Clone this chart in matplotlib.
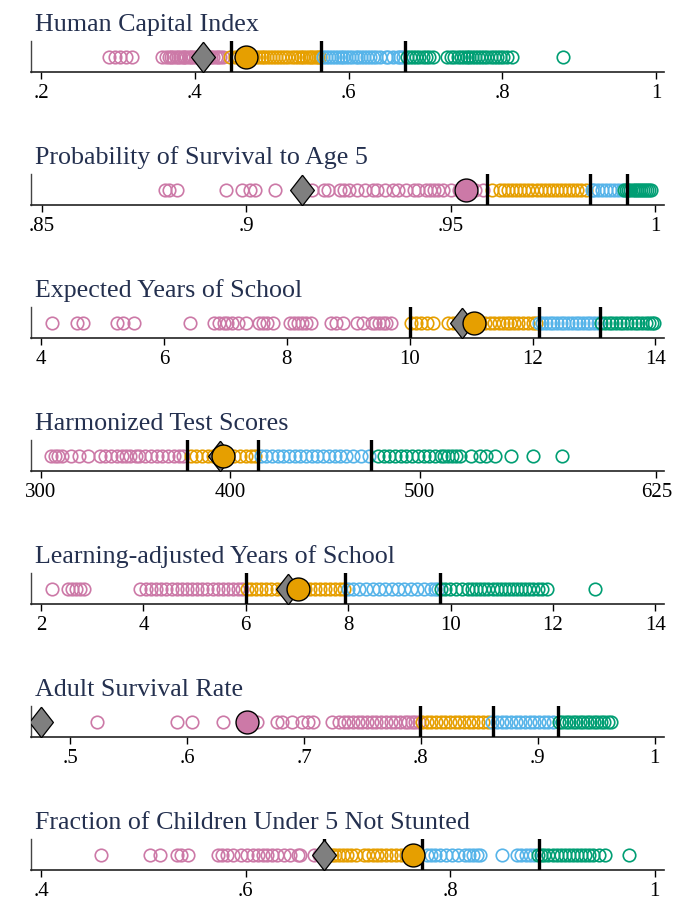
import matplotlib
matplotlib.use('Agg')
import matplotlib.pyplot as plt

# quartile colours (pink, orange, blue, green)
colors = ['#CC79A7', '#E69F00', '#56B4E9', '#009E73']
title_color = '#24304f'

# ---- Human Capital Index
hci_q1 = [0.289, 0.296, 0.303, 0.310, 0.318, 0.357, 0.362, 0.366, 0.369, 0.372, 0.375, 0.378,
          0.381, 0.384, 0.386, 0.389, 0.392, 0.395, 0.398, 0.401, 0.404, 0.407, 0.410, 0.413,
          0.416, 0.419, 0.421, 0.424, 0.427, 0.430, 0.433, 0.437]
hci_q2 = [0.446, 0.452, 0.456, 0.460, 0.471, 0.475, 0.479, 0.483, 0.487, 0.490, 0.494, 0.498,
          0.502, 0.505, 0.509, 0.513, 0.517, 0.521, 0.526, 0.530, 0.534, 0.538, 0.541, 0.545,
          0.548, 0.551, 0.554, 0.557, 0.560, 0.563]
hci_q3 = [0.566, 0.570, 0.574, 0.578, 0.582, 0.586, 0.590, 0.593, 0.597, 0.601, 0.605, 0.609,
          0.612, 0.616, 0.620, 0.624, 0.628, 0.632, 0.636, 0.641, 0.648, 0.651, 0.658, 0.664,
          0.667, 0.671]
hci_q4 = [0.676, 0.680, 0.684, 0.688, 0.692, 0.697, 0.701, 0.705, 0.710, 0.728, 0.733, 0.737,
          0.742, 0.746, 0.750, 0.754, 0.757, 0.761, 0.764, 0.768, 0.772, 0.776, 0.780, 0.785,
          0.789, 0.793, 0.797, 0.801, 0.806, 0.812, 0.879]
hci_cuts = [0.447, 0.564, 0.673]
hci_diamond = 0.410
hci_circle = 0.467
hci_circle_q = 1
hci_lim = (0.187, 1.010)
hci_ticks = [0.2, 0.4, 0.6, 0.8, 1.0]
hci_labels = ['.2', '.4', '.6', '.8', '1']

# ---- Probability of Survival to Age 5
psurv_q1 = [0.880, 0.881, 0.883, 0.895, 0.899, 0.901, 0.902, 0.907, 0.916, 0.919, 0.920, 0.923,
            0.924, 0.925, 0.927, 0.929, 0.931, 0.932, 0.934, 0.936, 0.937, 0.939, 0.941, 0.942,
            0.944, 0.945, 0.946, 0.947, 0.948, 0.950, 0.952, 0.956, 0.958]
psurv_q2 = [0.960, 0.962, 0.963, 0.964, 0.965, 0.966, 0.967, 0.968, 0.969, 0.970, 0.971, 0.972,
            0.973, 0.974, 0.975, 0.976, 0.977, 0.978, 0.979, 0.980, 0.981, 0.982, 0.983]
psurv_q3 = [0.9845, 0.985, 0.986, 0.987, 0.988, 0.989, 0.990, 0.991, 0.992]
psurv_q4 = [0.9925, 0.993, 0.9935, 0.994, 0.9945, 0.995, 0.9955, 0.996, 0.9965, 0.997, 0.9975,
            0.998, 0.9985, 0.999]
psurv_cuts = [0.959, 0.984, 0.9931]
psurv_diamond = 0.9135
psurv_circle = 0.9538
psurv_circle_q = 0
psurv_lim = (0.8473, 1.0022)
psurv_ticks = [0.85, 0.9, 0.95, 1.0]
psurv_labels = ['.85', '.9', '.95', '1']

# ---- Expected Years of School
eys_q1 = [4.17, 4.58, 4.69, 5.24, 5.33, 5.51, 6.43, 6.82, 6.90, 6.97, 7.03, 7.10, 7.20, 7.33,
          7.55, 7.62, 7.68, 7.78, 8.05, 8.12, 8.18, 8.24, 8.31, 8.40, 8.72, 8.80, 8.92, 9.14,
          9.24, 9.38, 9.44, 9.50, 9.56, 9.62, 9.70]
eys_q2 = [10.02, 10.10, 10.18, 10.28, 10.38, 10.62, 10.70, 10.78, 10.92, 11.00, 11.15, 11.22,
          11.30, 11.38, 11.46, 11.52, 11.58, 11.64, 11.70, 11.76, 11.84, 11.92, 12.00, 12.05]
eys_q3 = [12.10, 12.16, 12.22, 12.28, 12.34, 12.40, 12.46, 12.52, 12.58, 12.64, 12.70, 12.76,
          12.82, 12.88, 12.94, 13.00, 13.06]
eys_q4 = [13.12, 13.18, 13.24, 13.30, 13.36, 13.42, 13.48, 13.54, 13.60, 13.66, 13.72, 13.78,
          13.84, 13.90, 13.94, 13.97]
eys_cuts = [10.0, 12.10, 13.10]
eys_diamond = 10.85
eys_circle = 11.05
eys_circle_q = 1
eys_lim = (3.836, 14.14)
eys_ticks = [4, 6, 8, 10, 12, 14]
eys_labels = ['4', '6', '8', '10', '12', '14']

# ---- Harmonized Test Scores
hts_q1 = [305.5, 307.5, 309, 311, 316, 320, 325, 331, 334, 337, 340, 343, 345, 347, 350, 352,
          355, 358, 361, 364, 367, 370, 373, 375]
hts_q2 = [379, 382, 385, 388, 391, 399, 402, 405, 408, 411, 413]
hts_q3 = [416, 419, 422, 425, 428, 431, 434, 437, 440, 443, 446, 449, 452, 455, 458, 461, 465,
          469, 473]
hts_q4 = [478, 481, 484, 487, 490, 493, 496, 499, 502, 505, 508, 511, 513, 515, 517, 519, 521,
          527, 532, 535, 540, 548, 560, 575]
hts_cuts = [377, 414.5, 474.5]
hts_diamond = 394.5
hts_circle = 396
hts_circle_q = 1
hts_lim = (294.7, 629)
hts_ticks = [300, 400, 500, 625]
hts_labels = ['300', '400', '500', '625']

# ---- Learning-adjusted Years of School
lays_q1 = [2.21, 2.53, 2.60, 2.68, 2.76, 2.84, 3.94, 4.05, 4.15, 4.25, 4.35, 4.45, 4.55, 4.65,
           4.75, 4.85, 4.95, 5.05, 5.15, 5.25, 5.35, 5.45, 5.55, 5.65, 5.75, 5.85, 5.92]
lays_q2 = [6.02, 6.10, 6.20, 6.30, 6.40, 6.50, 6.60, 6.70, 7.15, 7.25, 7.35, 7.45, 7.55, 7.65,
           7.75, 7.85, 7.92]
lays_q3 = [7.99, 8.10, 8.22, 8.35, 8.48, 8.60, 8.72, 8.85, 8.98, 9.10, 9.22, 9.35, 9.48, 9.62,
           9.70, 9.76]
lays_q4 = [9.82, 9.90, 9.98, 10.10, 10.22, 10.34, 10.42, 10.50, 10.58, 10.66, 10.74, 10.82,
           10.90, 10.98, 11.06, 11.14, 11.22, 11.30, 11.38, 11.46, 11.54, 11.62, 11.70, 11.78,
           11.88, 12.82]
lays_cuts = [6.0, 7.94, 9.79]
lays_diamond = 6.83
lays_circle = 7.02
lays_circle_q = 1
lays_lim = (1.804, 14.17)
lays_ticks = [2, 4, 6, 8, 10, 12, 14]
lays_labels = ['2', '4', '6', '8', '10', '12', '14']

# ---- Adult Survival Rate
asr_q1 = [0.523, 0.591, 0.604, 0.631, 0.660, 0.677, 0.681, 0.690, 0.698, 0.703, 0.708, 0.724,
          0.730, 0.734, 0.738, 0.742, 0.746, 0.750, 0.754, 0.758, 0.762, 0.766, 0.770, 0.774,
          0.778, 0.782, 0.786, 0.789, 0.792, 0.795, 0.798]
asr_q2 = [0.801, 0.805, 0.809, 0.813, 0.817, 0.821, 0.825, 0.829, 0.833, 0.837, 0.841, 0.845,
          0.849, 0.853, 0.857]
asr_q3 = [0.861, 0.865, 0.869, 0.873, 0.877, 0.881, 0.885, 0.889, 0.893, 0.897, 0.901, 0.905,
          0.909, 0.913]
asr_q4 = [0.918, 0.921, 0.924, 0.927, 0.930, 0.933, 0.936, 0.939, 0.942, 0.945, 0.948, 0.951,
          0.954, 0.957, 0.960, 0.963]
asr_cuts = [0.799, 0.862, 0.917]
asr_diamond = 0.475
asr_circle = 0.651
asr_circle_q = 0
asr_lim = (0.4664, 1.008)
asr_ticks = [0.5, 0.6, 0.7, 0.8, 0.9, 1.0]
asr_labels = ['.5', '.6', '.7', '.8', '.9', '1']

# ---- Fraction of Children Under 5 Not Stunted
nst_q1 = [0.458, 0.506, 0.516, 0.533, 0.537, 0.544, 0.573, 0.577, 0.582, 0.588, 0.595, 0.601,
          0.607, 0.612, 0.617, 0.621, 0.626, 0.631, 0.637, 0.643, 0.651, 0.653, 0.667, 0.672]
nst_q2 = [0.680, 0.684, 0.687, 0.691, 0.695, 0.699, 0.703, 0.708, 0.716, 0.720, 0.724, 0.728,
          0.732, 0.737, 0.742, 0.747, 0.752, 0.757, 0.762]
nst_q3 = [0.777, 0.781, 0.785, 0.790, 0.796, 0.802, 0.808, 0.814, 0.818, 0.822, 0.826, 0.829,
          0.851, 0.865, 0.869, 0.874, 0.878, 0.882]
nst_q4 = [0.886, 0.889, 0.892, 0.896, 0.900, 0.904, 0.908, 0.912, 0.916, 0.920, 0.924, 0.928,
          0.932, 0.936, 0.940, 0.945, 0.951, 0.975]
nst_cuts = [0.677, 0.772, 0.887]
nst_diamond = 0.6765
nst_circle = 0.764
nst_circle_q = 1
nst_lim = (0.390, 1.009)
nst_ticks = [0.4, 0.6, 0.8, 1.0]
nst_labels = ['.4', '.6', '.8', '1']

panels = [
    ('Human Capital Index', [hci_q1, hci_q2, hci_q3, hci_q4], hci_cuts, hci_diamond,
     hci_circle, hci_circle_q, hci_lim, hci_ticks, hci_labels),
    ('Probability of Survival to Age 5', [psurv_q1, psurv_q2, psurv_q3, psurv_q4], psurv_cuts,
     psurv_diamond, psurv_circle, psurv_circle_q, psurv_lim, psurv_ticks, psurv_labels),
    ('Expected Years of School', [eys_q1, eys_q2, eys_q3, eys_q4], eys_cuts, eys_diamond,
     eys_circle, eys_circle_q, eys_lim, eys_ticks, eys_labels),
    ('Harmonized Test Scores', [hts_q1, hts_q2, hts_q3, hts_q4], hts_cuts, hts_diamond,
     hts_circle, hts_circle_q, hts_lim, hts_ticks, hts_labels),
    ('Learning-adjusted Years of School', [lays_q1, lays_q2, lays_q3, lays_q4], lays_cuts,
     lays_diamond, lays_circle, lays_circle_q, lays_lim, lays_ticks, lays_labels),
    ('Adult Survival Rate', [asr_q1, asr_q2, asr_q3, asr_q4], asr_cuts, asr_diamond,
     asr_circle, asr_circle_q, asr_lim, asr_ticks, asr_labels),
    ('Fraction of Children Under 5 Not Stunted', [nst_q1, nst_q2, nst_q3, nst_q4], nst_cuts,
     nst_diamond, nst_circle, nst_circle_q, nst_lim, nst_ticks, nst_labels),
]

plt.rcParams['font.family'] = ['Liberation Serif', 'DejaVu Serif']

W, H = 686, 903
fig = plt.figure(figsize=(W / 100, H / 100), dpi=100)

# tall diamond marker
diamond = [(0, 1), (0.78, 0), (0, -1), (-0.78, 0), (0, 1)]

for i, (title, groups, cuts, dval, cval, cq, lim, ticks, labels) in enumerate(panels):
    yb = 73 + 133.0 * i          # bottom spine, pixels from top
    ax = fig.add_axes([31 / W, 1 - yb / H, (664 - 31) / W, 31 / H])

    for q, vals in enumerate(groups):
        ax.plot(vals, [0.5] * len(vals), 'o', ms=9, mfc='none', mec=colors[q],
                mew=1.2, zorder=2)

    for c in cuts:
        ax.axvline(c, color='black', lw=2.4, zorder=3)

    ax.plot([dval], [0.5], marker=diamond, ms=22, color='#7f7f7f', mec='black',
            mew=0.9, ls='none', zorder=4)
    ax.plot([cval], [0.5], 'o', ms=16.5, color=colors[cq], mec='black', mew=1.0,
            ls='none', zorder=5)

    ax.set_xlim(lim)
    ax.set_ylim(0, 1)
    ax.set_yticks([])
    ax.set_xticks(ticks)
    ax.set_xticklabels(labels)
    ax.tick_params(axis='x', length=5, width=1, pad=3, labelsize=15)
    for s in ['top', 'right']:
        ax.spines[s].set_visible(False)
    ax.spines['left'].set_linewidth(1.0)
    ax.spines['bottom'].set_linewidth(1.2)
    ax.spines['left'].set_color('#444444')
    ax.spines['bottom'].set_color('#222222')
    ax.patch.set_alpha(0)

    fig.text(35 / W, 1 - (yb - 42) / H, title, fontsize=18.7, color=title_color,
             va='baseline', ha='left')

fig.savefig('out.png', dpi=100)
